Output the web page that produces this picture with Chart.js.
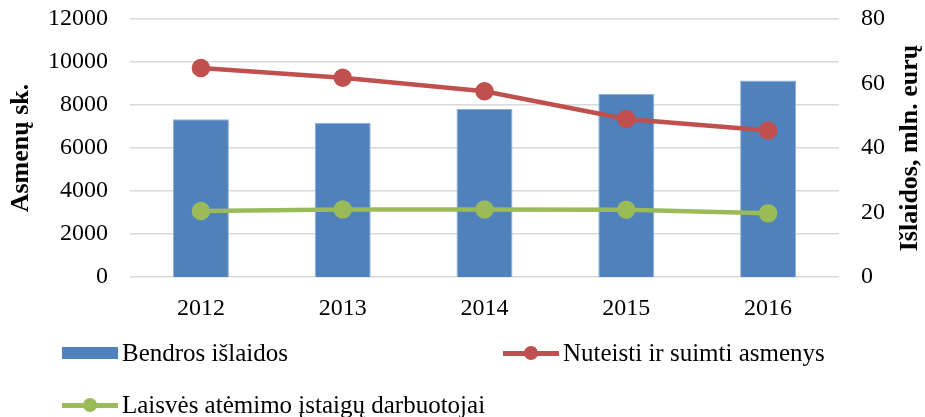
<!DOCTYPE html>
<html>
<head>
<meta charset="utf-8">
<script src="https://cdn.jsdelivr.net/npm/chart.js@4.4.1/dist/chart.umd.min.js"></script>
<style>
  html, body { margin: 0; padding: 0; background: #fff; }
  #wrap { position: relative; width: 925px; height: 417px; }
  #legend { position: absolute; left: 0; top: 0; width: 925px; height: 417px; pointer-events: none;
    font-family: "Liberation Serif", "DejaVu Serif", serif; font-size: 25px; color: #000; }
  .item { position: absolute; display: flex; align-items: center; white-space: nowrap; }
  .mark { position: relative; width: 56px; height: 16px; margin-right: 4px; }
  .box { position: absolute; left: 0; top: 2px; width: 56px; height: 12px; }
  .ln { position: absolute; left: 0; top: 6px; width: 56px; height: 5px; }
  .dot { position: absolute; left: 21px; top: 1px; width: 14px; height: 14px; border-radius: 50%; }
</style>
</head>
<body>
<div id="wrap">
  <canvas id="chart" width="925" height="417"></canvas>
  <div id="legend"></div>
</div>
<script>
const years = ["2012", "2013", "2014", "2015", "2016"];
const expenses = [48.9, 47.8, 52.1, 56.8, 60.9];          // mln. eurų
const convicted = [9720, 9270, 8640, 7350, 6810];          // asmenų sk.
const staff = [3070, 3140, 3140, 3130, 2960];               // asmenų sk.

const blue = "#4f81bd";
const red = "#c0504d";
const green = "#9bbb59";
const font = "'Liberation Serif', 'DejaVu Serif', serif";

// right axis title reads bottom-to-top like in Excel
const rightTitle = {
  id: "rightTitle",
  afterDraw(chart) {
    const { ctx, chartArea } = chart;
    ctx.save();
    ctx.translate(910, (chartArea.top + chartArea.bottom) / 2);
    ctx.rotate(-Math.PI / 2);
    ctx.font = "bold 26px " + font;
    ctx.fillStyle = "#000";
    ctx.textAlign = "center";
    ctx.textBaseline = "middle";
    ctx.fillText("Išlaidos, mln. eurų", 0, 0);
    ctx.restore();
  },
};

const ctx = document.getElementById("chart").getContext("2d");

const chart = new Chart(ctx, {
  type: "bar",
  data: {
    labels: years,
    datasets: [
      {
        label: "Bendros išlaidos",
        data: expenses,
        yAxisID: "y1",
        backgroundColor: blue,
        borderColor: "#8eaedb",
        borderWidth: 1,
        categoryPercentage: 1,
        barPercentage: 0.395,
        order: 2,
      },
      {
        type: "line",
        label: "Nuteisti ir suimti asmenys",
        data: convicted,
        yAxisID: "y",
        borderColor: red,
        backgroundColor: red,
        borderWidth: 4.5,
        pointRadius: 7,
        pointHoverRadius: 7,
        tension: 0,
        order: 1,
      },
      {
        type: "line",
        label: "Laisvės atėmimo įstaigų darbuotojai",
        data: staff,
        yAxisID: "y",
        borderColor: green,
        backgroundColor: green,
        borderWidth: 4.5,
        pointRadius: 7,
        pointHoverRadius: 7,
        tension: 0,
        order: 0,
      },
    ],
  },
  options: {
    responsive: false,
    animation: false,
    layout: { padding: 0 },
    plugins: {
      legend: { display: false },
      tooltip: { enabled: false },
    },
    scales: {
      x: {
        grid: { display: false },
        border: { display: false },
        ticks: { color: "#000", font: { family: font, size: 24 }, padding: 9, maxRotation: 0 },
        afterFit: (scale) => { scale.height = 140; },
      },
      y: {
        position: "left",
        min: 0,
        max: 12000,
        ticks: {
          stepSize: 2000,
          color: "#000",
          font: { family: font, size: 24 },
          padding: 22,
          callback: (v) => String(v),
        },
        grid: { color: "#d9d9d9", lineWidth: 1.5, drawTicks: false },
        border: { display: false },
        title: {
          display: true,
          text: "Asmenų sk.",
          color: "#000",
          font: { family: font, size: 26, weight: "bold" },
          padding: { top: 6, bottom: 0 },
        },
        afterFit: (scale) => { scale.width = 130; scale.paddingTop = 19; },
      },
      y1: {
        position: "right",
        min: 0,
        max: 80,
        ticks: {
          stepSize: 20,
          color: "#000",
          font: { family: font, size: 24 },
          padding: 22,
          callback: (v) => String(v),
        },
        grid: { display: false, drawTicks: false },
        border: { display: false },
        afterFit: (scale) => { scale.width = 86; scale.paddingTop = 19; },
      },
    },
  },
  plugins: [rightTitle],
});

// Excel-style legend in two columns
const legend = document.getElementById("legend");
const spots = [
  { left: 62, top: 339 },
  { left: 503, top: 339 },
  { left: 62, top: 391 },
];
chart.data.datasets.forEach((ds, i) => {
  const item = document.createElement("div");
  item.className = "item";
  item.style.left = spots[i].left + "px";
  item.style.top = spots[i].top + "px";
  const mark = document.createElement("div");
  mark.className = "mark";
  if (ds.type === "line") {
    mark.innerHTML = `<div class="ln" style="background:${ds.borderColor}"></div>` +
      `<div class="dot" style="background:${ds.borderColor}"></div>`;
  } else {
    mark.innerHTML = `<div class="box" style="background:${ds.backgroundColor}"></div>`;
  }
  const txt = document.createElement("span");
  txt.textContent = ds.label;
  item.appendChild(mark);
  item.appendChild(txt);
  legend.appendChild(item);
});
</script>
</body>
</html>
